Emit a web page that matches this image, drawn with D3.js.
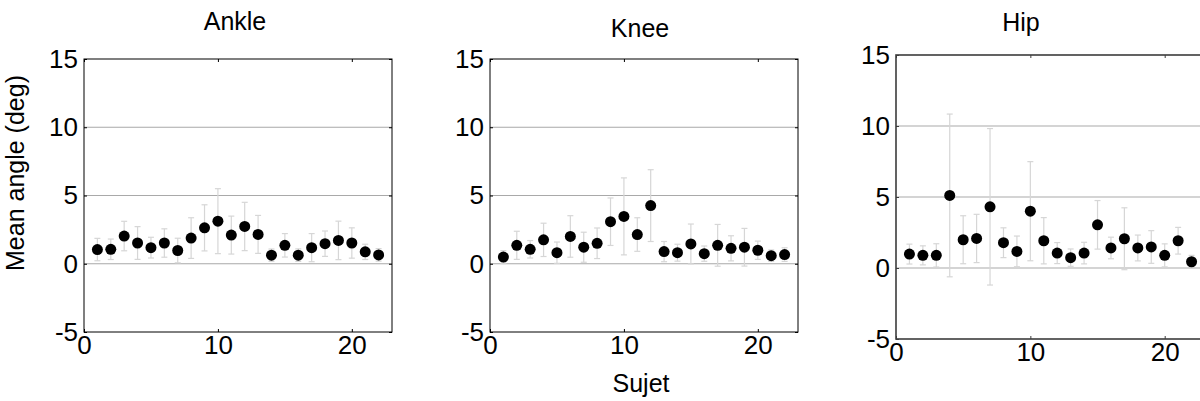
<!DOCTYPE html>
<html>
<head>
<meta charset="utf-8">
<script src="https://cdn.jsdelivr.net/npm/d3@7"></script>
<style>
  html, body { margin: 0; padding: 0; background: #fff; }
  svg { display: block; }
  text { font-family: Arial, "Liberation Sans", sans-serif; fill: #000; }
</style>
</head>
<body>
<svg id="chart" width="1200" height="401"></svg>
<script>
// Subjects 1..22
const subjects = d3.range(1, 23);

// Mean angle (deg) per subject and standard deviation, per joint
const ankleMean = [1.04, 1.06, 2.03, 1.52, 1.18, 1.52, 0.97, 1.88, 2.63, 3.12, 2.10, 2.73, 2.15, 0.63, 1.35, 0.63, 1.18, 1.47, 1.71, 1.52, 0.87, 0.65];
const ankleSd   = [0.82, 0.75, 1.08, 1.20, 0.76, 1.04, 0.90, 1.49, 1.69, 2.38, 1.39, 1.77, 1.39, 0.45, 0.86, 0.46, 1.03, 0.93, 1.41, 1.11, 0.56, 0.46];

const kneeMean = [0.49, 1.35, 1.06, 1.75, 0.81, 2.00, 1.21, 1.50, 3.08, 3.47, 2.14, 4.26, 0.89, 0.81, 1.45, 0.74, 1.35, 1.13, 1.21, 0.99, 0.59, 0.67];
const kneeSd   = [0.47, 1.03, 0.64, 1.22, 0.78, 1.52, 1.10, 1.12, 1.74, 2.82, 1.23, 2.63, 0.74, 0.62, 1.46, 0.56, 1.53, 0.92, 1.38, 0.67, 0.42, 0.50];

const hipMean = [0.98, 0.89, 0.89, 5.11, 1.99, 2.08, 4.31, 1.78, 1.17, 4.00, 1.92, 1.05, 0.73, 1.05, 3.04, 1.41, 2.06, 1.41, 1.48, 0.89, 1.92, 0.44];
const hipSd   = [0.70, 0.67, 0.82, 5.73, 1.69, 1.70, 5.51, 1.05, 1.08, 3.49, 1.63, 0.74, 0.61, 0.76, 1.71, 0.76, 2.18, 0.91, 1.15, 0.81, 0.94, 0.45];

const jointNames = ["Ankle", "Knee", "Hip"];
const xTicks = [0, 10, 20];
const yTicks = [-5, 0, 5, 10, 15];
const gridTicks = [0, 5, 10];
const xDomain = [0, 23];
const yDomain = [-5, 15];

const series = [
  { name: jointNames[0], mean: ankleMean, sd: ankleSd },
  { name: jointNames[1], mean: kneeMean, sd: kneeSd },
  { name: jointNames[2], mean: hipMean, sd: hipSd }
];

// Panel boxes and title placement
const boxes = [
  { left: 84,  right: 392,  top: 59, bottom: 332, titleX: 235,  titleY: 30, frame: "#000", frameW: 1 },
  { left: 490, right: 798,  top: 59, bottom: 332, titleX: 640,  titleY: 37, frame: "#000", frameW: 1 },
  { left: 896, right: 1205, top: 55, bottom: 339, titleX: 1021, titleY: 31, frame: "#3c3c3c", frameW: 1.6 }
];

const tickFmt = d => String(d);   // plain hyphen for negatives
const svg = d3.select("#chart");

series.forEach((s, i) => {
  const b = boxes[i];
  const x = d3.scaleLinear().domain(xDomain).range([b.left, b.right]);
  const y = d3.scaleLinear().domain(yDomain).range([b.bottom, b.top]);
  const g = svg.append("g");

  // horizontal grid
  g.selectAll("line.grid").data(gridTicks).join("line")
    .attr("x1", b.left).attr("x2", b.right)
    .attr("y1", d => y(d)).attr("y2", d => y(d))
    .attr("stroke", "#a9a9a9").attr("stroke-width", 1.2);

  // error bars (mean ± sd)
  const eb = g.selectAll("g.eb").data(subjects).join("g");
  eb.append("line")
    .attr("x1", d => x(d)).attr("x2", d => x(d))
    .attr("y1", (d, k) => y(s.mean[k] - s.sd[k]))
    .attr("y2", (d, k) => y(s.mean[k] + s.sd[k]))
    .attr("stroke", "#d6d6d6").attr("stroke-width", 1.2);
  [-1, 1].forEach(sign => {
    eb.append("line")
      .attr("x1", d => x(d) - 3).attr("x2", d => x(d) + 3)
      .attr("y1", (d, k) => y(s.mean[k] + sign * s.sd[k]))
      .attr("y2", (d, k) => y(s.mean[k] + sign * s.sd[k]))
      .attr("stroke", "#d6d6d6").attr("stroke-width", 1.2);
  });

  // means
  g.selectAll("circle").data(subjects).join("circle")
    .attr("cx", d => x(d))
    .attr("cy", (d, k) => y(s.mean[k]))
    .attr("r", 5.5)
    .attr("fill", "#000");

  // axes: left and bottom with labels, inward ticks
  const yAxis = d3.axisLeft(y).tickValues(yTicks).tickSize(-3).tickPadding(6).tickFormat(tickFmt);
  const xAxis = d3.axisBottom(x).tickValues(xTicks).tickSize(-3).tickPadding(3).tickFormat(tickFmt);
  const ya = g.append("g").attr("transform", `translate(${b.left},0)`).call(yAxis);
  const xa = g.append("g").attr("transform", `translate(0,${b.bottom})`).call(xAxis);
  [ya, xa].forEach(a => {
    a.select(".domain").remove();
    a.selectAll(".tick line").attr("stroke", b.frame);
    a.selectAll("text").style("font-size", "26px").style("font-family", "Arial, 'Liberation Sans', sans-serif").attr("fill", "#000");
  });
  xa.selectAll("text").attr("dy", "0.72em");
  // mirrored ticks on top and right
  const xt = g.append("g").attr("transform", `translate(0,${b.top})`)
    .call(d3.axisTop(x).tickValues(xTicks).tickSize(-3).tickFormat(""));
  xt.select(".domain").remove();
  xt.selectAll(".tick line").attr("stroke", b.frame);
  const yr = g.append("g").attr("transform", `translate(${b.right},0)`)
    .call(d3.axisRight(y).tickValues(yTicks).tickSize(-3).tickFormat(""));
  yr.select(".domain").remove();
  yr.selectAll(".tick line").attr("stroke", b.frame);

  // frame
  g.append("rect")
    .attr("x", b.left).attr("y", b.top)
    .attr("width", b.right - b.left).attr("height", b.bottom - b.top)
    .attr("fill", "none").attr("stroke", b.frame).attr("stroke-width", b.frameW);

  // title
  g.append("text")
    .attr("x", b.titleX).attr("y", b.titleY)
    .attr("text-anchor", "middle")
    .style("font-size", "25px")
    .text(s.name);
});

// shared axis titles
svg.append("text")
  .attr("transform", "translate(24,173) rotate(-90)")
  .attr("text-anchor", "middle")
  .style("font-size", "25px")
  .text("Mean angle (deg)");

svg.append("text")
  .attr("x", 641).attr("y", 392)
  .attr("text-anchor", "middle")
  .style("font-size", "25px")
  .text("Sujet");
</script>
</body>
</html>
